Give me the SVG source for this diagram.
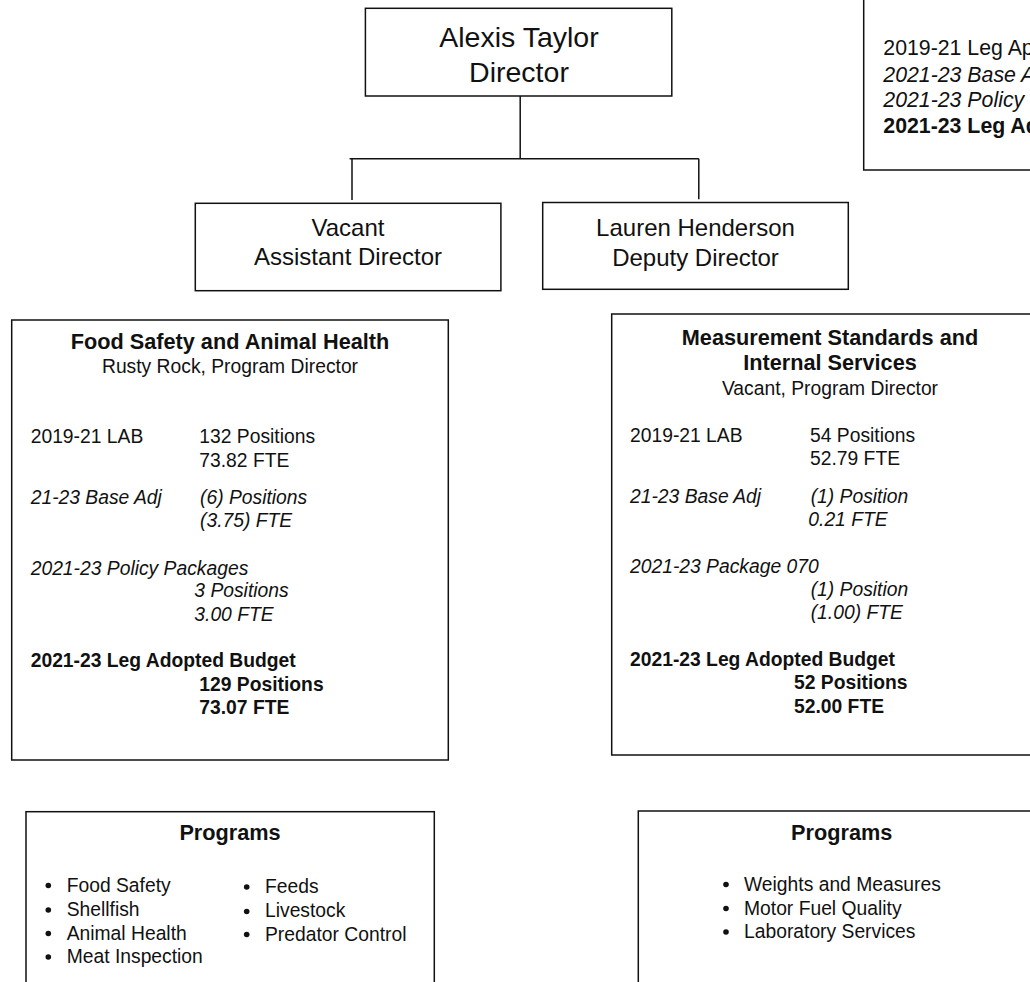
<svg xmlns="http://www.w3.org/2000/svg" width="1030" height="982" viewBox="0 0 1030 982">
<style>
text{font-family:"Liberation Sans",Arial,Helvetica,sans-serif;fill:#111}
.box{fill:#fff;stroke:#111;stroke-width:1.5}
.ln{stroke:#111;stroke-width:1.5;fill:none}
.big{font-size:28.5px;text-anchor:middle}
.mid{font-size:24px;text-anchor:middle}
.ttl{font-size:21.7px;font-weight:bold;text-anchor:middle}
.sub{font-size:19.3px;text-anchor:middle}
.b{font-size:19.3px}
.i{font-size:19.3px;font-style:italic}
.bb{font-size:19.3px;font-weight:bold}
.key{font-size:21.3px}
.bul{fill:#111}
</style>
<rect width="1030" height="982" fill="#fff"/>
<g id="connectors">
<line class="ln" x1="520.2" y1="96" x2="520.2" y2="158.7"/>
<line class="ln" x1="349.6" y1="158.7" x2="698.8" y2="158.7"/>
<line class="ln" x1="352" y1="158.7" x2="352" y2="200"/>
<line class="ln" x1="698.8" y1="158.7" x2="698.8" y2="199.3"/>
</g>
<g id="director">
<rect class="box" x="365.4" y="8.3" width="306.4" height="87.7"/>
<text class="big" x="519" y="46.7">Alexis Taylor</text>
<text class="big" x="519" y="81.7">Director</text>
</g>
<g id="legend">
<rect class="box" x="863.7" y="-10" width="200" height="180"/>
<text class="key" x="883.3" y="55">2019-21 Leg Ap</text>
<text class="key" x="883.3" y="81.7" font-style="italic">2021-23 Base A</text>
<text class="key" x="883.3" y="107.3" font-style="italic">2021-23 Policy</text>
<text class="key" x="883.3" y="133.3" font-weight="bold">2021-23 Leg Ad</text>
</g>
<g id="assistant">
<rect class="box" x="195.3" y="203.3" width="305.6" height="87.4"/>
<text class="mid" x="348" y="236">Vacant</text>
<text class="mid" x="348" y="265">Assistant Director</text>
</g>
<g id="deputy">
<rect class="box" x="542.7" y="202.5" width="305.6" height="86.8"/>
<text class="mid" x="695.5" y="236">Lauren Henderson</text>
<text class="mid" x="695.5" y="265.5">Deputy Director</text>
</g>
<g id="food-safety">
<rect class="box" x="11.7" y="320" width="436.6" height="440"/>
<text class="ttl" x="230" y="349.3">Food Safety and Animal Health</text>
<text class="sub" x="230" y="373.3">Rusty Rock, Program Director</text>
<text class="b" x="30.7" y="443.3">2019-21 LAB</text>
<text class="b" x="199.3" y="443.3">132 Positions</text>
<text class="b" x="199.3" y="466.7">73.82 FTE</text>
<text class="i" x="30.7" y="504.3">21-23 Base Adj</text>
<text class="i" x="200" y="504.3">(6) Positions</text>
<text class="i" x="200" y="527.3">(3.75) FTE</text>
<text class="i" x="30.7" y="575">2021-23 Policy Packages</text>
<text class="i" x="194.3" y="597.3">3 Positions</text>
<text class="i" x="194.3" y="620.7">3.00 FTE</text>
<text class="bb" x="30.7" y="667.3">2021-23 Leg Adopted Budget</text>
<text class="bb" x="199.3" y="690.7">129 Positions</text>
<text class="bb" x="199.3" y="714">73.07 FTE</text>
</g>
<g id="measurement">
<rect class="box" x="611.7" y="314" width="440" height="441"/>
<text class="ttl" x="830" y="345">Measurement Standards and</text>
<text class="ttl" x="830" y="370">Internal Services</text>
<text class="sub" x="830" y="395">Vacant, Program Director</text>
<text class="b" x="630" y="441.7">2019-21 LAB</text>
<text class="b" x="810" y="441.7">54 Positions</text>
<text class="b" x="810" y="465">52.79 FTE</text>
<text class="i" x="630" y="502.7">21-23 Base Adj</text>
<text class="i" x="810.7" y="502.7">(1) Position</text>
<text class="i" x="808.3" y="526">0.21 FTE</text>
<text class="i" x="630" y="572.7">2021-23 Package 070</text>
<text class="i" x="810.7" y="596">(1) Position</text>
<text class="i" x="810.7" y="619.3">(1.00) FTE</text>
<text class="bb" x="630" y="666">2021-23 Leg Adopted Budget</text>
<text class="bb" x="794" y="689.3">52 Positions</text>
<text class="bb" x="794" y="712.7">52.00 FTE</text>
</g>
<g id="programs-food">
<rect class="box" x="26" y="811.7" width="408.3" height="190"/>
<text class="ttl" x="230" y="840">Programs</text>
<circle class="bul" cx="48.3" cy="885.5" r="2.8"/>
<circle class="bul" cx="48.3" cy="910" r="2.8"/>
<circle class="bul" cx="48.3" cy="933.5" r="2.8"/>
<circle class="bul" cx="48.3" cy="957" r="2.8"/>
<text class="b" x="66.7" y="891.7">Food Safety</text>
<text class="b" x="66.7" y="915.7">Shellfish</text>
<text class="b" x="66.7" y="939.5">Animal Health</text>
<text class="b" x="66.7" y="963.3">Meat Inspection</text>
<circle class="bul" cx="246.7" cy="887" r="2.8"/>
<circle class="bul" cx="246.7" cy="911.5" r="2.8"/>
<circle class="bul" cx="246.7" cy="934.5" r="2.8"/>
<text class="b" x="265" y="893.3">Feeds</text>
<text class="b" x="265" y="917.3">Livestock</text>
<text class="b" x="265" y="940.7">Predator Control</text>
</g>
<g id="programs-measurement">
<rect class="box" x="638.3" y="811" width="420" height="190"/>
<text class="ttl" x="841.7" y="840">Programs</text>
<circle class="bul" cx="726" cy="884.5" r="2.8"/>
<circle class="bul" cx="726" cy="908.5" r="2.8"/>
<circle class="bul" cx="726" cy="932" r="2.8"/>
<text class="b" x="744" y="890.7">Weights and Measures</text>
<text class="b" x="744" y="914.7">Motor Fuel Quality</text>
<text class="b" x="744" y="938.3">Laboratory Services</text>
</g>
</svg>
